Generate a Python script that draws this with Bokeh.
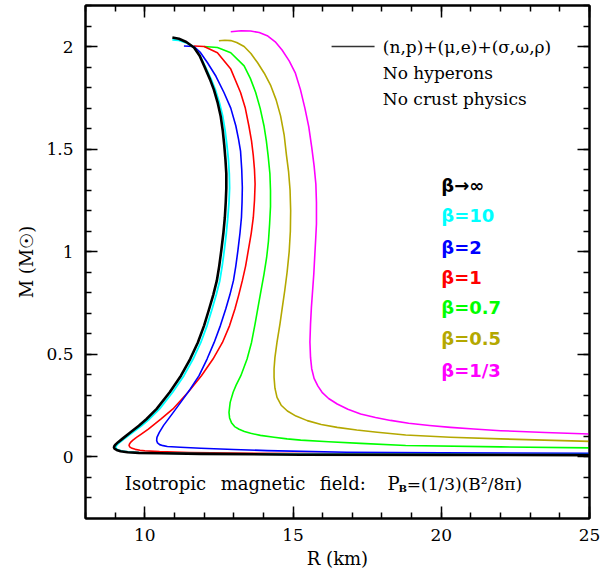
from bokeh.plotting import figure
from bokeh.models import (Label, LinearAxis, SingleIntervalTicker, Range1d,
                          CustomJSTickFormatter, ColumnDataSource)
from bokeh.core.properties import value
from bokeh.embed import file_html
from bokeh.resources import INLINE

# ---------------- data ----------------
black_R = [10.93, 11.15, 11.40, 11.66, 11.85, 12.00, 12.20, 12.33, 12.46, 12.56,
           12.63, 12.68, 12.72, 12.75, 12.75, 12.73, 12.70, 12.65, 12.58, 12.51,
           12.43, 12.31, 12.17, 12.00, 11.79, 11.53, 11.22, 10.84, 10.40, 10.06,
           9.80, 9.52, 9.24, 9.10, 9.01, 8.97, 8.96, 8.98, 9.05, 9.18,
           9.42, 9.80, 10.50, 11.89, 15.26, 20.0, 25.0]
black_M = [2.044, 2.038, 2.022, 1.995, 1.955, 1.906, 1.840, 1.790, 1.725, 1.660,
           1.590, 1.520, 1.450, 1.380, 1.310, 1.240, 1.167, 1.090, 1.005, 0.930,
           0.859, 0.790, 0.721, 0.640, 0.558, 0.477, 0.396, 0.315, 0.234, 0.185,
           0.152, 0.120, 0.088, 0.072, 0.060, 0.052, 0.046, 0.040, 0.034, 0.028,
           0.023, 0.020, 0.018, 0.015, 0.011, 0.010, 0.009]

cyan_R = [10.93, 11.15, 11.40, 11.66, 11.86, 12.03, 12.24, 12.38, 12.52, 12.63,
          12.71, 12.77, 12.82, 12.85, 12.86, 12.84, 12.80, 12.75, 12.68, 12.61,
          12.53, 12.41, 12.27, 12.10, 11.89, 11.63, 11.32, 10.94, 10.50, 10.16,
          9.89, 9.60, 9.31, 9.17, 9.07, 9.03, 9.02, 9.04, 9.11, 9.24,
          9.45, 9.80, 10.50, 11.89, 15.26, 20.0, 25.0]
cyan_M = [2.033, 2.030, 2.018, 1.995, 1.955, 1.906, 1.840, 1.790, 1.725, 1.660,
          1.590, 1.520, 1.450, 1.380, 1.310, 1.240, 1.167, 1.090, 1.005, 0.930,
          0.859, 0.790, 0.721, 0.640, 0.558, 0.477, 0.396, 0.315, 0.234, 0.185,
          0.152, 0.120, 0.088, 0.072, 0.060, 0.052, 0.046, 0.040, 0.034, 0.028,
          0.024, 0.021, 0.019, 0.016, 0.013, 0.012, 0.011]

blue_R = [11.32, 11.66, 11.88, 12.11, 12.40, 12.67, 12.90, 13.07, 13.16, 13.23,
          13.27, 13.29, 13.28, 13.26, 13.21, 13.14, 13.07, 12.99, 12.87, 12.73,
          12.55, 12.34, 12.10, 11.83, 11.53, 11.21, 10.90, 10.64, 10.49, 10.41,
          10.40, 10.43, 10.50, 10.62, 10.76, 11.20, 11.89, 13.00, 14.13, 16.80,
          20.0, 25.0]
blue_M = [2.003, 2.000, 1.970, 1.922, 1.855, 1.776, 1.700, 1.614, 1.550, 1.490,
          1.400, 1.313, 1.240, 1.167, 1.090, 1.005, 0.930, 0.859, 0.790, 0.721,
          0.640, 0.558, 0.477, 0.396, 0.330, 0.266, 0.205, 0.155, 0.120, 0.095,
          0.080, 0.068, 0.060, 0.055, 0.051, 0.047, 0.042, 0.036, 0.031, 0.023,
          0.020, 0.018]

red_R = [11.66, 12.00, 12.45, 12.90, 13.23, 13.39, 13.51, 13.60, 13.66, 13.70,
         13.72, 13.70, 13.66, 13.59, 13.49, 13.40, 13.29, 13.17, 13.04, 12.86,
         12.62, 12.30, 11.91, 11.46, 10.95, 10.55, 10.12, 9.87, 9.72, 9.60,
         9.52, 9.48, 9.47, 9.50, 9.57, 9.68, 9.84, 10.00, 10.50, 11.50,
         13.00, 16.00, 20.0, 25.0]
red_M = [2.003, 2.000, 1.970, 1.890, 1.776, 1.700, 1.614, 1.540, 1.468, 1.400,
         1.330, 1.250, 1.167, 1.090, 1.005, 0.930, 0.859, 0.790, 0.721, 0.640,
         0.558, 0.477, 0.396, 0.315, 0.234, 0.185, 0.136, 0.110, 0.095, 0.082,
         0.071, 0.062, 0.055, 0.048, 0.042, 0.037, 0.033, 0.030, 0.026, 0.022,
         0.019, 0.016, 0.014, 0.013]

green_R = [12.00, 12.45, 12.90, 13.35, 13.56, 13.74, 13.89, 14.02, 14.10, 14.16,
           14.22, 14.24, 14.24, 14.21, 14.17, 14.11, 14.02, 13.92, 13.82, 13.72,
           13.60, 13.45, 13.24, 13.08, 12.98, 12.88, 12.84, 12.86, 12.93, 13.03,
           13.18, 13.36, 13.57, 13.90, 14.36, 14.80, 15.26, 16.20, 17.28, 18.80,
           22.0, 25.0]
green_M = [2.000, 1.995, 1.970, 1.906, 1.845, 1.776, 1.700, 1.614, 1.540, 1.468,
           1.380, 1.297, 1.220, 1.135, 1.050, 0.972, 0.890, 0.810, 0.730, 0.648,
           0.558, 0.477, 0.396, 0.350, 0.315, 0.266, 0.217, 0.190, 0.165, 0.148,
           0.135, 0.124, 0.115, 0.105, 0.096, 0.088, 0.082, 0.074, 0.066, 0.056,
           0.049, 0.044]

olive_R = [12.50, 12.70, 12.90, 13.10, 13.35, 13.58, 13.80, 14.03, 14.25, 14.43,
           14.58, 14.70, 14.78, 14.85, 14.90, 14.92, 14.91, 14.87, 14.80, 14.72,
           14.64, 14.56, 14.46, 14.39, 14.36, 14.36, 14.39, 14.46, 14.60, 14.81,
           15.10, 15.48, 15.95, 16.49, 17.15, 17.84, 18.80, 20.30, 22.0, 25.0]
olive_M = [2.028, 2.031, 2.029, 2.020, 2.000, 1.966, 1.922, 1.870, 1.809, 1.740,
           1.662, 1.570, 1.468, 1.390, 1.300, 1.200, 1.100, 1.000, 0.900, 0.810,
           0.730, 0.648, 0.560, 0.485, 0.430, 0.388, 0.335, 0.290, 0.252, 0.224,
           0.199, 0.177, 0.158, 0.144, 0.131, 0.120, 0.107, 0.096, 0.088, 0.076]

mag_R = [12.90, 13.25, 13.57, 13.86, 14.13, 14.40, 14.63, 14.87, 15.08, 15.25,
         15.40, 15.53, 15.63, 15.71, 15.77, 15.79, 15.79, 15.76, 15.73, 15.70,
         15.66, 15.62, 15.59, 15.57, 15.59, 15.63, 15.71, 15.84, 15.98, 16.20,
         16.49, 16.85, 17.28, 17.78, 18.29, 18.90, 19.60, 20.31, 21.10, 22.0,
         23.5, 25.0]
mag_M = [2.072, 2.077, 2.076, 2.068, 2.053, 2.023, 1.983, 1.930, 1.870, 1.790,
         1.700, 1.610, 1.510, 1.420, 1.330, 1.240, 1.135, 1.050, 0.972, 0.890,
         0.810, 0.730, 0.648, 0.560, 0.485, 0.430, 0.383, 0.345, 0.315, 0.285,
         0.258, 0.232, 0.209, 0.192, 0.178, 0.164, 0.153, 0.144, 0.136, 0.128,
         0.119, 0.112]

beta_labels = ["β→∞", "β=10", "β=2", "β=1", "β=0.7", "β=0.5", "β=1/3"]
beta_colors = ["#000000", "#00FFFF", "#0000FF", "#FF0000", "#00FF00", "#B4A800", "#FF00FF"]

legend_lines = ["(n,p)+(μ,e)+(σ,ω,ρ)", "No hyperons", "No crust physics"]
bottom_words = ["Isotropic", "magnetic", "field:", "P"]
bottom_sub = "B"
bottom_right = "=(1/3)(B²/8π)"

x_label = "R (km)"
y_label = "M (M☉)"

SERIF = "DejaVu Serif"
SANS = "DejaVu Sans"

# ---------------- figure ----------------
p = figure(width=606, height=573, x_range=Range1d(8, 25), y_range=Range1d(-0.3, 2.2),
           output_backend="svg", toolbar_location=None,
           min_border_left=85, min_border_right=17, min_border_top=5, min_border_bottom=55)
p.xgrid.visible = False
p.ygrid.visible = False
p.outline_line_color = "black"
p.outline_line_width = 2
p.background_fill_color = "white"
p.border_fill_color = "white"


def style_axis(ax, labels=True, standoff=8):
    ax.axis_line_color = "black"
    ax.axis_line_width = 2
    ax.major_tick_in = 12
    ax.major_tick_out = 0
    ax.minor_tick_in = 6
    ax.minor_tick_out = 0
    ax.major_tick_line_color = "black"
    ax.minor_tick_line_color = "black"
    ax.major_tick_line_width = 1.5
    ax.minor_tick_line_width = 1.5
    if labels:
        ax.major_label_text_font = SERIF
        ax.major_label_text_font_size = "17px"
        ax.major_label_text_color = "black"
        ax.major_label_standoff = standoff
        ax.axis_label_text_font = SERIF
        ax.axis_label_text_font_size = "18px"
        ax.axis_label_text_font_style = "normal"
        ax.axis_label_text_color = "black"
    else:
        ax.formatter = CustomJSTickFormatter(code="return ''")
        ax.major_label_text_font_size = "0px"
        ax.major_label_standoff = 0


p.xaxis[0].ticker = SingleIntervalTicker(interval=5, num_minor_ticks=5)
p.yaxis[0].ticker = SingleIntervalTicker(interval=0.5, num_minor_ticks=5)
style_axis(p.xaxis[0], True, 10)
style_axis(p.yaxis[0], True, 12)
p.yaxis[0].major_label_orientation = "horizontal"
p.xaxis[0].axis_label = x_label
p.xaxis[0].axis_label_standoff = 4
p.yaxis[0].axis_label = y_label
p.yaxis[0].axis_label_standoff = 6

top_ax = LinearAxis(ticker=SingleIntervalTicker(interval=5, num_minor_ticks=5))
style_axis(top_ax, False)
p.add_layout(top_ax, "above")
right_ax = LinearAxis(ticker=SingleIntervalTicker(interval=0.5, num_minor_ticks=5))
style_axis(right_ax, False)
p.add_layout(right_ax, "right")

# ---------------- curves ----------------
curves = [
    (mag_R, mag_M, "#FF00FF", 1.6),
    (olive_R, olive_M, "#B4A800", 1.6),
    (green_R, green_M, "#00FF00", 1.6),
    (red_R, red_M, "#FF0000", 1.6),
    (blue_R, blue_M, "#0000FF", 1.6),
    (cyan_R, cyan_M, "#00FFFF", 1.8),
    (black_R, black_M, "#000000", 2.6),
]
for R, M, c, w in curves:
    assert len(R) == len(M)
    p.line(R, M, line_color=c, line_width=w, line_join="round")

# ---------------- legend / annotations ----------------
leg_y = [2.0, 1.873, 1.744]
p.line([16.30, 17.75], [leg_y[0], leg_y[0]], line_color="#333333", line_width=1.6)
for t, yy in zip(legend_lines, leg_y):
    p.add_layout(Label(x=18.03, y=yy, text=t, text_font=SERIF, text_font_size="17px",
                       text_baseline="middle", text_align="left", text_color="black"))

beta_y = [1.321, 1.175, 1.021, 0.875, 0.729, 0.575, 0.420]
src = ColumnDataSource(dict(x=[20.0] * len(beta_labels), y=beta_y, text=beta_labels, color=beta_colors))
p.text(x="x", y="y", text="text", text_color="color", source=src,
       text_font=value(SANS), text_font_size="18px", text_font_style="bold",
       text_baseline="middle", text_align="left")

word_x = [9.325, 12.56, 15.90, 18.19]
for w, xx in zip(bottom_words, word_x):
    p.add_layout(Label(x=xx, y=-0.1315, text=w, text_font=SERIF, text_font_size="18px",
                       text_baseline="middle", text_align="left", text_color="black"))
p.add_layout(Label(x=18.70, y=-0.152, text=bottom_sub, text_font=SERIF, text_font_size="10px",
                   text_font_style="bold", text_baseline="middle", text_align="center", text_color="black"))
p.add_layout(Label(x=18.84, y=-0.1315, text=bottom_right, text_font=SERIF, text_font_size="17px",
                   text_baseline="middle", text_align="left", text_color="black"))

open("out.html", "w").write(file_html(p, INLINE))
